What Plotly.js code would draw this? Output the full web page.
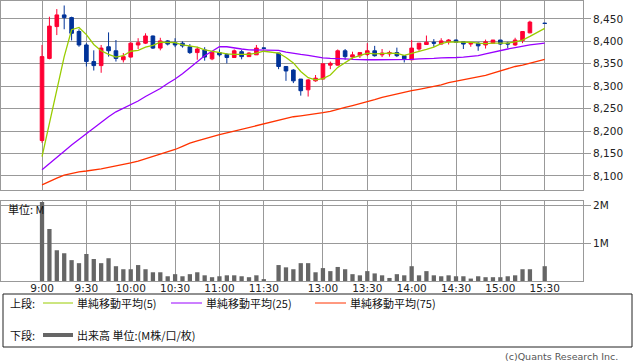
<!DOCTYPE html>
<html><head><meta charset="utf-8">
<script src="https://cdn.plot.ly/plotly-3.0.1.min.js"></script>
<style>html,body{margin:0;padding:0;background:#fff;}#chart{width:638px;height:362px;}</style>
</head><body><div id="chart"></div>
<script>
// ---- data ----
const times = ['9:00','9:05','9:10','9:15','9:20','9:25','9:30','9:35','9:40','9:45','9:50','9:55',
 '10:00','10:05','10:10','10:15','10:20','10:25','10:30','10:35','10:40','10:45','10:50','10:55',
 '11:00','11:05','11:10','11:15','11:20','11:25','11:30','',
 '12:30','12:35','12:40','12:45','12:50','12:55','13:00','13:05','13:10','13:15','13:20','13:25',
 '13:30','13:35','13:40','13:45','13:50','13:55','14:00','14:05','14:10','14:15','14:20','14:25',
 '14:30','14:35','14:40','14:45','14:50','14:55','15:00','15:05','15:10','15:15','15:20','15:25','15:30'];

const openP = [8179,8362,8433,8459,8453,8422,8392,8355,8346,8388,
 8379,8359,8365,8392,8396,8412,8385,8401,8397,8396,
 8388,8375,8381,8361,8375,8371,8364,8377,8366,8370,
 8385.5,null,8374,8344,8336,8316,8292,8312,8316,8347,
 8347,8379,8365,8368,8371,8379,8370,8372,8375,8368,
 8359,8383,8393,8398,8394,8399,8403,8399,8394,8396,
 8392,8396,8403,8396,8392,8402,8419,null,8440.5];
const highP = [8392,8455,8472,8480,8455,8427,8396,8380,8392,8420,
 8403,8374,8398,8407,8418,8413,8408,8403,8407,8400,
 8394,8388,8387,8378,8382,8374,8382,8381,8376,8392,
 8386,null,8374,8344,8338,8316,8316,8325,8350,8355,
 8382,8383,8377,8375,8396,8390,8383,8379,8386,8368,
 8403,8396,8413,8405,8407,8405,8404,8399,8398,8398,
 8404,8403,8403,8399,8408,8423,8446,null,8441];
const lowP = [8174,8360,8414,8427,8402,8388,8344,8335,8330,8366,
 8355,8353,8364,8383,8394,8383,8380,8391,8387,8386,
 8372,8359,8357,8358,8366,8351,8364,8360,8366,8370,
 8384,null,8338,8312,8307,8279,8277,8310,8315,8338,
 8346,8359,8359,8363,8367,8366,8365,8366,8365,8353,
 8359,8379,8392,8388,8393,8393,8398,8383,8388,8379,
 8384,8396,8392,8385,8390,8396,8418,null,8440];
const closeP = [8366,8434,8459,8453,8418,8392,8355,8346,8385,8379,
 8362,8366,8396,8397,8412,8385,8401,8394,8392,8390,
 8375,8383,8365,8376,8370,8364,8379,8366,8374,8385,
 8384.5,null,8344,8334,8312,8290,8314,8318,8350,8351,
 8379,8366,8370,8375,8379,8368,8374,8375,8368,8361,
 8385,8396,8398,8396,8401,8403,8398,8394,8396,8390,
 8399,8403,8394,8394,8403,8422,8443,null,8440];

const ma5 = [8143,8215,8291,8366,8426,8431,8415,8393,8379,8371,
 8365,8368,8378,8380,8387,8391,8398,8398,8397,8392,
 8390,8387,8381,8378,8374,8372,8371,8371,8371,8374,
 8378,null,8374,8364,8352,8333,8319,8314,8317,8325,
 8342,8353,8363,8368,8374,8372,8373,8374,8373,8369,
 8373,8377,8382,8387,8395,8399,8399,8398,8398,8396,
 8395,8396,8396,8396,8399,8403,8411,null,8429];
const ma25 = [8114,8127,8141,8155,8169,8182,8195,8207,8220,8232,
 8243,8251,8259,8267,8277,8286,8295,8306,8316,8328,
 8341,8355,8368,8378,8388,8388,8385,8383,8381,8381,
 8381,null,8380,8376,8373,8371,8369,8366,8363,8362,
 8362,8361,8360,8359,8359,8359,8359,8359,8359,8359,
 8360,8361,8361,8362,8363,8363,8364,8365,8366,8368,
 8372,8376,8380,8383,8386,8389,8392,null,8396];
const ma75 = [8080,8088,8095,8102,8106,8109,8111,8113,8116,8119,
 8122,8125,8129,8133,8138,8143,8148,8154,8159,8166,
 8173,8178,8183,8188,8192,8196,8200,8204,8209,8213,
 8217,null,8224,8228,8232,8234,8236,8239,8241,8244,
 8249,8253,8257,8261,8266,8270,8275,8279,8283,8287,
 8290,8293,8296,8299,8303,8308,8311,8314,8317,8320,
 8324,8329,8334,8339,8344,8347,8351,null,8360];

const volumeM = [2.08,1.37,0.81,0.73,0.55,0.47,0.71,0.58,0.47,0.60,
 0.39,0.31,0.31,0.42,0.31,0.23,0.23,0.125,0.18,0.125,
 0.18,0.23,0.15,0.10,0.125,0.15,0.15,0.125,0.10,0.15,
 0.05,null,0.42,0.36,0.31,0.47,0.47,0.23,0.34,0.26,
 0.37,0.31,0.18,0.15,0.26,0.20,0.15,0.08,0.18,0.15,
 0.39,0.15,0.26,0.15,0.125,0.15,0.125,0.125,0.064,0.125,
 0.10,0.10,0.10,0.125,0.15,0.31,0.31,null,0.39];

const tickLabels = ['9:00','9:30','10:00','10:30','11:00','11:30','13:00','13:30','14:00','14:30','15:00','15:30'];
const priceTicks = [8100,8150,8200,8250,8300,8350,8400,8450];
const volTicks = [1,2];
const volTickText = ['1M','2M'];
const maNames = ['単純移動平均(5)','単純移動平均(25)','単純移動平均(75)'];
const upperLabel = '上段:';
const lowerLabel = '下段:';
const volName = '出来高 単位:(M株/口/枚)';
const unitLabel = '単位: M';
const copyright = '(c)Quants Research Inc.';

// ---- build ----
const idx = times.map((t,i)=>i);
const cIdx = idx.filter(i => openP[i] !== null);
const pick = arr => cIdx.map(i => arr[i]);

const RED = '#ff0033', BLUE = '#003399', C5 = '#99cc00', C25 = '#9900ff', C75 = '#ff3300', GRID = '#999999';

const traces = [
 {type:'candlestick', x:pick(idx), open:pick(openP), high:pick(highP), low:pick(lowP), close:pick(closeP),
  xaxis:'x', yaxis:'y', whiskerwidth:0, hoverinfo:'skip',
  increasing:{line:{color:RED,width:1}, fillcolor:RED},
  decreasing:{line:{color:BLUE,width:1}, fillcolor:BLUE}},
 {type:'scatter', mode:'lines', x:idx, y:ma75, connectgaps:true, line:{color:C75,width:1.3}, xaxis:'x', yaxis:'y', hoverinfo:'skip'},
 {type:'scatter', mode:'lines', x:idx, y:ma25, connectgaps:true, line:{color:C25,width:1.3}, xaxis:'x', yaxis:'y', hoverinfo:'skip'},
 {type:'scatter', mode:'lines', x:idx, y:ma5, connectgaps:true, line:{color:C5,width:1.3}, xaxis:'x', yaxis:'y', hoverinfo:'skip'},
 {type:'bar', x:idx, y:volumeM, marker:{color:'#666666', line:{width:0}}, xaxis:'x', yaxis:'y2', hoverinfo:'skip'}
];

const W=638, H=362, L=1, R=55, T=1, B=81;
const pw = W-L-R, ph = H-T-B;
const px = x => (x-L)/pw;
const py = y => (T+ph-y)/ph;

const tickFont = {family:'DejaVu Sans, Verdana, sans-serif', size:10.5, color:'#222'};
const jpFont = {family:'Noto Sans CJK JP, sans-serif', size:11, color:'#111'};

const shapes = [
 {type:'rect', xref:'paper', yref:'paper', x0:px(3), x1:px(632), y0:py(294), y1:py(347), line:{color:'#222',width:1}},
 {type:'line', xref:'paper', yref:'paper', x0:px(43), x1:px(73), y0:py(303), y1:py(303), line:{color:C5,width:1}},
 {type:'line', xref:'paper', yref:'paper', x0:px(171), x1:px(202), y0:py(303), y1:py(303), line:{color:C25,width:1}},
 {type:'line', xref:'paper', yref:'paper', x0:px(315), x1:px(346), y0:py(303), y1:py(303), line:{color:C75,width:1}},
 {type:'line', xref:'paper', yref:'paper', x0:px(43), x1:px(73), y0:py(335), y1:py(335), line:{color:'#666666',width:4}}
];

const ann = (text, x, y, font, xanchor) => ({text, xref:'paper', yref:'paper', x:px(x), y:py(y),
  xanchor:xanchor||'left', yanchor:'middle', showarrow:false, font, borderpad:0});

const annotations = [
 ann(upperLabel, 9, 303, jpFont),
 ann(maNames[0], 76, 303, jpFont),
 ann(maNames[1], 205, 303, jpFont),
 ann(maNames[2], 349, 303, jpFont),
 ann(lowerLabel, 9, 335, jpFont),
 ann(volName, 76, 335, jpFont),
 ann(unitLabel, 7, 209, jpFont),
 ann(copyright, 619, 356, {family:'DejaVu Sans, sans-serif', size:9.5, color:'#555'}, 'right')
];

const layout = {
 width:W, height:H, margin:{l:L,r:R,t:T,b:B,pad:0},
 paper_bgcolor:'#ffffff', plot_bgcolor:'#ffffff', showlegend:false,
 xaxis:{range:[-5.55,73.18], anchor:'y2', tickmode:'array',
   tickvals: tickLabels.map(t => times.indexOf(t)), ticktext: tickLabels,
   showgrid:true, gridcolor:GRID, gridwidth:1, showline:true, linecolor:GRID, linewidth:1, mirror:'all',
   ticks:'', ticklabelstandoff:-3, tickfont:tickFont, zeroline:false, rangeslider:{visible:false}, fixedrange:true},
 yaxis:{domain:[py(190.3),1], range:[8068,8490], side:'right', anchor:'x', tickmode:'array',
   tickvals: priceTicks, tickformat:',d', ticks:'outside', ticklen:7, tickcolor:GRID, tickwidth:1,
   showgrid:true, gridcolor:GRID, gridwidth:1, showline:true, linecolor:GRID, mirror:true,
   tickfont:tickFont, zeroline:false, fixedrange:true},
 yaxis2:{domain:[0,py(201.3)], range:[0,2.1], side:'right', anchor:'x', tickmode:'array',
   tickvals: volTicks, ticktext: volTickText, ticks:'outside', ticklen:7, tickcolor:GRID, tickwidth:1,
   showgrid:true, gridcolor:GRID, gridwidth:1, showline:true, linecolor:GRID, mirror:true,
   tickfont:tickFont, zeroline:false, fixedrange:true},
 bargap:0.42,
 shapes, annotations
};

Plotly.newPlot('chart', traces, layout, {staticPlot:true, displayModeBar:false});
</script>
</body></html>
